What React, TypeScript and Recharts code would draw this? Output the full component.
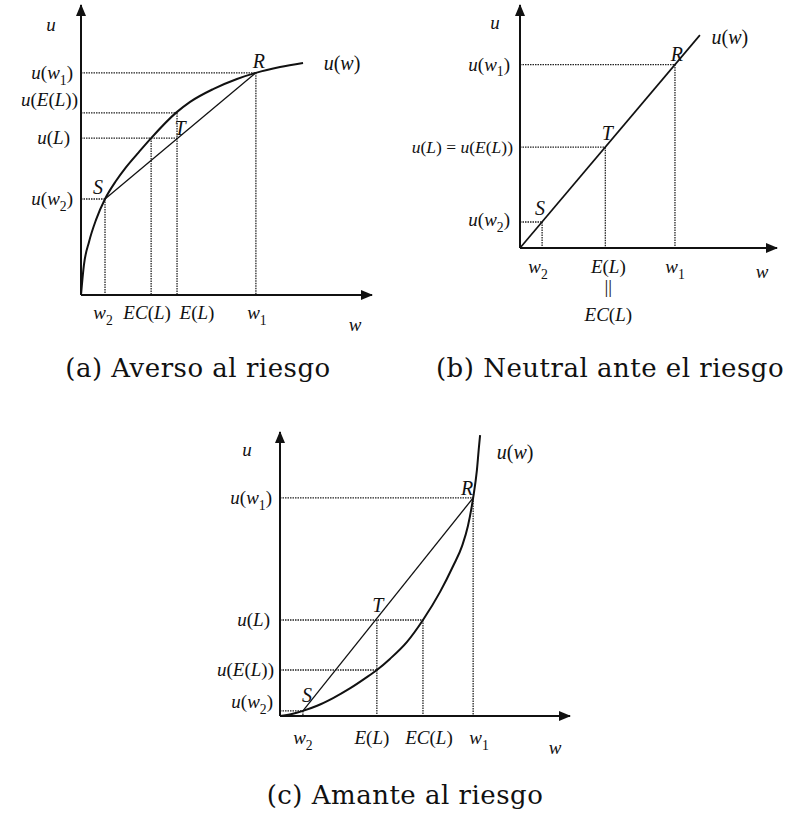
import React from 'react';
import { ComposedChart, Line, XAxis, YAxis, ReferenceLine, ReferenceDot } from 'recharts';

const FONT = "'Liberation Serif', 'Times New Roman', serif";
const CAPTION_FONT = "'DejaVu Serif', serif";
const INK = '#111';

// (a) Averso al riesgo: concave u(w)
const curveWA = [0, 0.3, 1.0, 2.75, 5.15, 8.25, 12.0, 15.5, 19.9, 24.1, 32.6, 37.5, 45.4, 53.6, 60.1, 68.4, 76.3];
const curveUA = [0, 3.4, 10.3, 18.3, 25.9, 33.1, 39.3, 44.1, 49.3, 54.1, 62.8, 66.6, 71.0, 74.5, 76.6, 78.6, 80.0];
const wTicksA = [8.25, 24.1, 33.0, 60.1]; // w2, EC(L), E(L), w1
const wLabelsA = ['w_2', 'EC(L)', 'E(L)', 'w_1'];
const uTicksA = [33.1, 54.1, 62.8, 76.6]; // u(w2), u(L), u(E(L)), u(w1)
const uLabelsA = ['u(w_2)', 'u(L)', 'u(E(L))', 'u(w_1)'];

// (b) Neutral ante el riesgo: linear u(w)
const lineWB = [0, 70];
const lineUB = [0, 87.6];
const wTicksB = [8.6, 33.2, 60.3]; // w2, E(L)=EC(L), w1
const wLabelsB = ['w_2', 'E(L)', 'w_1'];
const uTicksB = [10.7, 41.5, 75.5];
const uLabelsB = ['u(w_2)', 'u(L) = u(E(L))', 'u(w_1)'];

// (c) Amante al riesgo: convex u(w)
const curveWC = [0, 4.1, 7.9, 12.8, 18.3, 24.1, 29.7, 33.4, 37.9, 43.8, 49.3, 55.2, 59.7, 62.8, 64.8, 66.6, 67.9, 68.6, 69.0];
const curveUC = [0, 0.7, 1.8, 3.6, 6.3, 9.7, 13.5, 16.2, 20.1, 26.1, 33.8, 43.7, 52.8, 59.9, 66.9, 76.8, 86.6, 94.7, 98.9];
const wTicksC = [7.9, 33.4, 49.3, 66.6]; // w2, E(L), EC(L), w1
const wLabelsC = ['w_2', 'E(L)', 'EC(L)', 'w_1'];
const uTicksC = [1.8, 16.2, 33.8, 76.8]; // u(w2), u(E(L)), u(L), u(w1)
const uLabelsC = ['u(w_2)', 'u(E(L))', 'u(L)', 'u(w_1)'];

const captions = ['(a) Averso al riesgo', '(b) Neutral ante el riesgo', '(c) Amante al riesgo'];

const zip = (ws: number[], us: number[]) => ws.map((w, i) => ({ w, u: us[i] }));

// text with italic letters and "_x" subscripts
function MathText({ x, y, text, size = 19, anchor = 'middle' }: any) {
  const runs: { t: string; sub: boolean; italic: boolean }[] = [];
  for (let i = 0; i < text.length; i++) {
    let ch = text[i];
    let sub = false;
    if (ch === '_') { sub = true; i++; ch = text[i]; }
    const italic = !sub && /[A-Za-z]/.test(ch);
    const last = runs[runs.length - 1];
    if (last && last.sub === sub && last.italic === italic) last.t += ch;
    else runs.push({ t: ch, sub, italic });
  }
  let shift = 0;
  return (
    <text x={x} y={y + size * 0.34} textAnchor={anchor} fontFamily={FONT} fontSize={size} fill={INK}>
      {runs.map((r, i) => {
        const target = r.sub ? size * 0.28 : 0;
        const dy = target - shift;
        shift = target;
        return (
          <tspan key={i} dy={dy || undefined} fontSize={r.sub ? size * 0.72 : undefined} fontStyle={r.italic ? 'italic' : 'normal'}>
            {r.t}
          </tspan>
        );
      })}
    </text>
  );
}

type Seg = [number, number, number, number];

function Panel({ box, margin, axisW, axisH, series, guides, xt, yt, notes }: any) {
  return (
    <div style={{ position: 'absolute', left: box[0], top: box[1] }}>
      <ComposedChart width={box[2]} height={box[3]} margin={margin}>
        <XAxis
          type="number" dataKey="w" domain={[0, 100]} ticks={xt.values} interval={0}
          height={axisH} tickSize={0} tickMargin={0} tickLine={false}
          axisLine={{ stroke: INK, strokeWidth: 2 }}
          tick={(p: any) => {
            const i = xt.values.indexOf(p.payload.value);
            if (i < 0) return <g />;
            const x = p.x + xt.dx[i];
            const y = p.y + xt.dy;
            const extra: string[] = (xt.extra && xt.extra[i]) || [];
            return (
              <g>
                <MathText x={x} y={y} text={xt.labels[i]} />
                {extra.map((t, k) => (
                  <MathText key={k} x={x} y={y + 20 + k * 28} text={t} />
                ))}
              </g>
            );
          }}
        />
        <YAxis
          type="number" domain={[0, 100]} ticks={yt.values} interval={0}
          width={axisW} tickSize={0} tickMargin={0} tickLine={false}
          axisLine={{ stroke: INK, strokeWidth: 2 }}
          tick={(p: any) => {
            const i = yt.values.indexOf(p.payload.value);
            if (i < 0) return <g />;
            const size = yt.size ? yt.size[i] : 19;
            return <MathText x={p.x + yt.dx[i]} y={p.y + yt.dy[i]} text={yt.labels[i]} anchor="end" size={size} />;
          }}
        />
        {guides.map((g: Seg, i: number) => (
          <ReferenceLine
            key={'g' + i}
            segment={[{ x: g[0], y: g[1] }, { x: g[2], y: g[3] }]}
            stroke="#222" strokeWidth={1.3} strokeDasharray="1.5 1"
          />
        ))}
        {series.map((s: any, i: number) => (
          <Line
            key={'s' + i} data={s.data} dataKey="u" type={s.type}
            stroke={INK} strokeWidth={s.width} dot={false} activeDot={false}
            isAnimationActive={false}
          />
        ))}
        <ReferenceDot
          x={100} y={0} r={0}
          shape={(p: any) => (
            <polygon points={`${p.cx + 1},${p.cy} ${p.cx - 11},${p.cy - 5} ${p.cx - 11},${p.cy + 5}`} fill={INK} />
          )}
        />
        <ReferenceDot
          x={0} y={100} r={0}
          shape={(p: any) => (
            <polygon points={`${p.cx},${p.cy - 1} ${p.cx - 5},${p.cy + 11} ${p.cx + 5},${p.cy + 11}`} fill={INK} />
          )}
        />
        {notes.map((n: any, i: number) => (
          <ReferenceDot
            key={'n' + i} x={n.w} y={n.u} r={0}
            shape={(p: any) => <MathText x={p.cx + n.dx} y={p.cy + n.dy} text={n.label} size={n.size || 20} />}
          />
        ))}
      </ComposedChart>
    </div>
  );
}

export default function App() {
  const [w2a, eca, ea, w1a] = wTicksA;
  const [uw2a, uLa, uEa, uw1a] = uTicksA;
  const guidesA: Seg[] = [
    [0, uw1a, w1a, uw1a], [w1a, uw1a, w1a, 0],
    [0, uEa, ea, uEa], [ea, uEa, ea, 0],
    [0, uLa, ea, uLa], [eca, uLa, eca, 0],
    [0, uw2a, w2a, uw2a], [w2a, uw2a, w2a, 0],
  ];
  const endA = curveWA.length - 1;

  const [w2b, eb, w1b] = wTicksB;
  const [uw2b, uLb, uw1b] = uTicksB;
  const guidesB: Seg[] = [
    [0, uw1b, w1b, uw1b], [w1b, uw1b, w1b, 0],
    [0, uLb, eb, uLb], [eb, uLb, eb, 0],
    [0, uw2b, w2b, uw2b], [w2b, uw2b, w2b, 0],
  ];

  const [w2c, ec, ecc, w1c] = wTicksC;
  const [uw2c, uEc, uLc, uw1c] = uTicksC;
  const guidesC: Seg[] = [
    [0, uw1c, w1c, uw1c], [w1c, uw1c, w1c, 0],
    [0, uLc, ecc, uLc], [ec, uLc, ec, 0], [ecc, uLc, ecc, 0],
    [0, uEc, ec, uEc],
    [0, uw2c, w2c, uw2c], [w2c, uw2c, w2c, 0],
  ];
  const endC = curveWC.length - 1;

  const captionStyle = (cx: number, cy: number): React.CSSProperties => ({
    position: 'absolute', left: cx - 220, top: cy - 17, width: 440, height: 34, lineHeight: '34px',
    textAlign: 'center', fontFamily: CAPTION_FONT, fontSize: 26, letterSpacing: 0.5, color: INK, whiteSpace: 'nowrap',
  });

  return (
    <div style={{ position: 'absolute', left: 0, top: 0, width: 786, height: 816, background: '#fff', overflow: 'hidden' }}>
      <Panel
        box={[0, 0, 400, 340]}
        margin={{ top: 5, left: 21, right: 28, bottom: 15 }}
        axisW={60} axisH={30}
        series={[
          { data: zip(curveWA, curveUA), type: 'monotone', width: 2 },
          { data: zip([w2a, w1a], [uw2a, uw1a]), type: 'linear', width: 1.3 },
        ]}
        guides={guidesA}
        xt={{ values: wTicksA, labels: wLabelsA, dx: [-2, -4, 20, 1], dy: 18 }}
        yt={{ values: uTicksA, labels: uLabelsA, dx: [-8, -11, -3, -8], dy: [0, -1, -13, 0] }}
        notes={[
          { w: w2a, u: uw2a, label: 'S', dx: -7, dy: -12 },
          { w: ea, u: uLa, label: 'T', dx: 3, dy: -10 },
          { w: w1a, u: uw1a, label: 'R', dx: 3, dy: -12 },
          { w: curveWA[endA], u: curveUA[endA], label: 'u(w)', dx: 39, dy: 0, size: 20 },
          { w: 0, u: 100, label: 'u', dx: -30, dy: 20, size: 19 },
          { w: 100, u: 0, label: 'w', dx: -17, dy: 30, size: 19 },
        ]}
      />
      <Panel
        box={[400, 0, 386, 340]}
        margin={{ top: 5, left: 20, right: 9, bottom: 62 }}
        axisW={100} axisH={30}
        series={[{ data: zip(lineWB, lineUB), type: 'linear', width: 1.7 }]}
        guides={guidesB}
        xt={{ values: wTicksB, labels: wLabelsB, dx: [-4, 3, 0], dy: 19, extra: [null, ['||', 'EC(L)'], null] }}
        yt={{ values: uTicksB, labels: uLabelsB, dx: [-10, -7, -10], dy: [-2, 0, 0], size: [19, 17.5, 19] }}
        notes={[
          { w: w2b, u: uw2b, label: 'S', dx: -2, dy: -14 },
          { w: eb, u: uLb, label: 'T', dx: 2, dy: -14 },
          { w: w1b, u: uw1b, label: 'R', dx: 2, dy: -10 },
          { w: lineWB[1], u: lineUB[1], label: 'u(w)', dx: 30, dy: 2, size: 20 },
          { w: 0, u: 100, label: 'u', dx: -25, dy: 18, size: 19 },
          { w: 100, u: 0, label: 'w', dx: -15, dy: 24, size: 19 },
        ]}
      />
      <Panel
        box={[200, 420, 390, 350]}
        margin={{ top: 12, left: 20, right: 20, bottom: 24 }}
        axisW={60} axisH={30}
        series={[
          { data: zip(curveWC, curveUC), type: 'monotone', width: 2 },
          { data: zip([w2c, w1c], [uw2c, uw1c]), type: 'linear', width: 1.3 },
        ]}
        guides={guidesC}
        xt={{ values: wTicksC, labels: wLabelsC, dx: [0, -5, 6, 6], dy: 22 }}
        yt={{ values: uTicksC, labels: uLabelsC, dx: [-7, -6, -10, -8], dy: [-9, 0, 0, 0] }}
        notes={[
          { w: w2c, u: uw2c, label: 'S', dx: 4, dy: -16 },
          { w: ec, u: uLc, label: 'T', dx: 1, dy: -15 },
          { w: w1c, u: uw1c, label: 'R', dx: -6, dy: -10 },
          { w: curveWC[endC], u: curveUC[endC], label: 'u(w)', dx: 35, dy: 17, size: 20 },
          { w: 0, u: 100, label: 'u', dx: -33, dy: 18, size: 19 },
          { w: 100, u: 0, label: 'w', dx: -15, dy: 32, size: 19 },
        ]}
      />
      <div style={captionStyle(198, 368)}>{captions[0]}</div>
      <div style={captionStyle(610, 368)}>{captions[1]}</div>
      <div style={captionStyle(405, 795)}>{captions[2]}</div>
    </div>
  );
}
